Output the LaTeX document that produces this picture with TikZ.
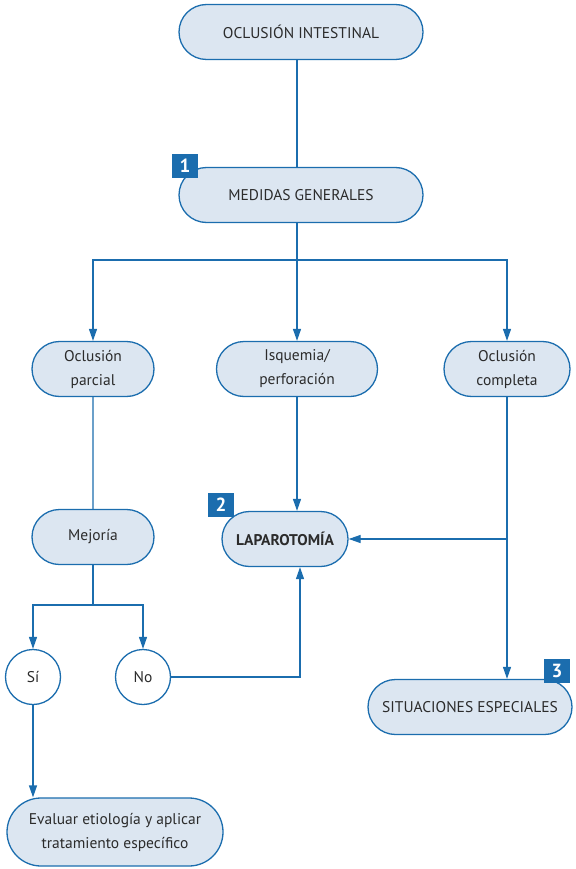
\documentclass[tikz,border=0pt]{standalone}
\usepackage{fontspec}
\setmainfont{PT Sans}
\usepackage{tikz}
\usetikzlibrary{arrows.meta,positioning,calc,shapes.misc}
\definecolor{ocblue}{HTML}{1B6DAE}
\definecolor{ocfill}{HTML}{DCE6F1}
\definecolor{octext}{HTML}{2B2B2B}
\tikzset{
  flowarrow/.style={-{Triangle[length=12pt,width=8pt]}, line width=1.3pt, draw=ocblue},
  flowline/.style={line width=1.3pt, draw=ocblue},
  pill/.style={rounded rectangle, draw=ocblue, line width=1.3pt, fill=ocfill,
    align=center, inner sep=2pt, minimum height=55pt, font=\fontsize{15.5}{24}\selectfont, text=octext},
  answer/.style={circle, draw=ocblue, line width=1.3pt, fill=white,
    minimum size=55pt, inner sep=0pt, font=\fontsize{15.5}{24}\selectfont, text=octext},
  badge/.style={fill=ocblue, text=white, inner sep=0pt, minimum width=26pt,
    minimum height=24pt, font=\fontsize{19}{19}\bfseries\selectfont}
}
\begin{document}
\begin{tikzpicture}[x=1pt,y=-1pt]
        \useasboundingbox (0,0) rectangle (575,869);
        % main column
        \node[pill, minimum width=248pt] (occl) at (301,32) {OCLUSIÓN INTESTINAL};
        \node[pill, minimum width=248pt] (medidas) at (301,195) {MEDIDAS GENERALES};
        \node[badge] (b1) at (185,166) {1};
        % three branches
        \node[pill, minimum width=126pt] (parcial) at (93,369) {Oclusión\\parcial};
        \node[pill, minimum width=165pt] (isq) at (297,369) {Isquemia/\\perforación};
        \node[pill, minimum width=130pt] (completa) at (507,369) {Oclusión\\completa};
        \node[pill, minimum width=126pt] (mejoria) at (93,537) {Mejoría};
        \node[pill, minimum width=130pt, font=\fontsize{15.5}{24}\bfseries\selectfont] (laparo) at (285,539) {LAPAROTOMÍA};
        \node[badge] (b2) at (221,505) {2};
        \node[answer] (si) at (33,677) {Sí};
        \node[answer] (no) at (143,677) {No};
        \node[pill, minimum width=208pt] (situ) at (470,707) {SITUACIONES ESPECIALES};
        \node[badge] (b3) at (557,671) {3};
        \node[pill, minimum width=220pt, minimum height=68pt] (eval) at (115,832) {Evaluar etiología y aplicar\\tratamiento específico};
        \coordinate (split) at (297,260);
        \coordinate (join) at (93,605);
        \draw[flowline] (occl.south -| split) -- (medidas.north -| split);
        \draw[flowline] (medidas.south -| split) -- (split);
        \draw[flowarrow] (split) -| (parcial.north);
        \draw[flowarrow] (split) -- (isq.north);
        \draw[flowarrow] (split) -| (completa.north);
        \draw[flowline] (parcial) -- (mejoria);
        \draw[flowarrow] (isq.south) -- (isq.south |- laparo.north);
        \draw[flowarrow] (completa.south) -- (completa.south |- situ.north);
        \draw[flowarrow] (completa.south |- laparo.east) -- (laparo.east);
        \draw[flowline] (mejoria.south) -- (join);
        \draw[flowarrow] (join) -| (si.north);
        \draw[flowarrow] (join) -| (no.north);
        \draw[flowarrow] (no.east) -| ($(laparo.south)+(15,0)$);
        \draw[flowarrow] (si.south) -- (si.south |- eval.north);
    \end{tikzpicture}
\end{document}
